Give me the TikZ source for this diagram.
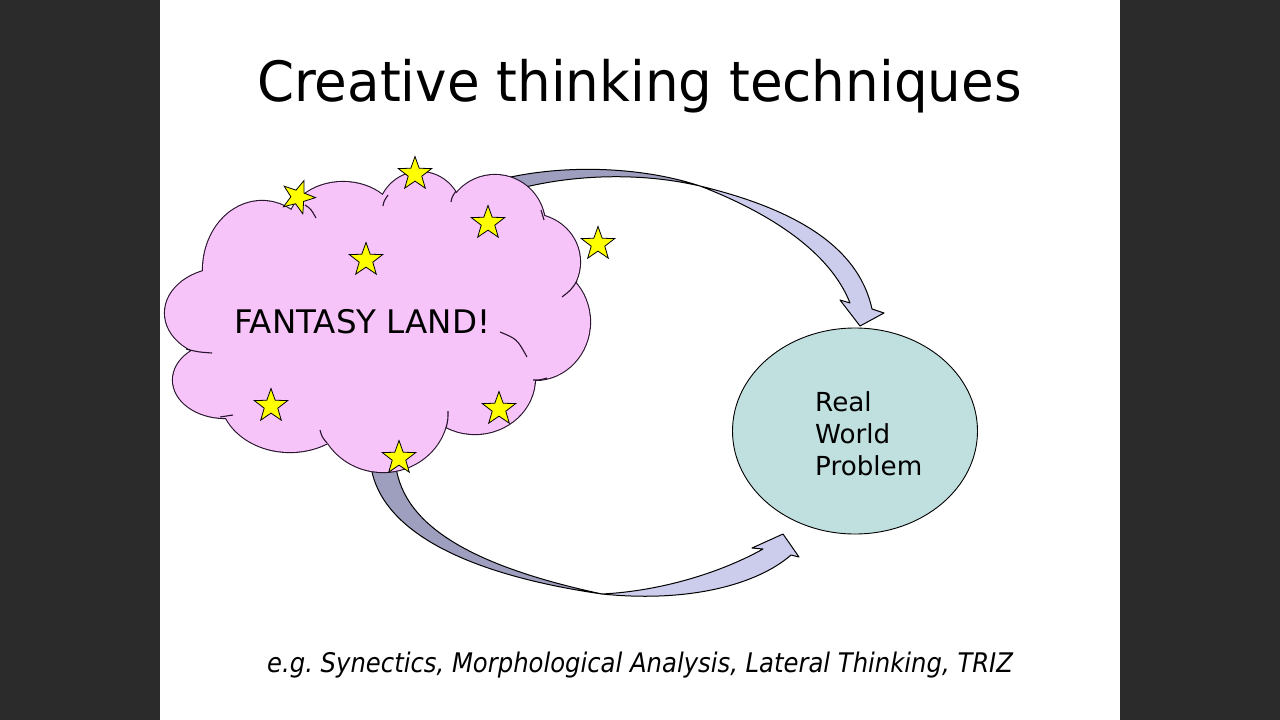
\documentclass[tikz,border=0pt]{standalone}
\usepackage{fontspec}
\setmainfont{DejaVu Sans}
\newfontfamily\titlefont[FakeStretch=0.955]{DejaVu Sans}
\newfontfamily\notefont[FakeStretch=0.9]{DejaVu Sans}
\usetikzlibrary{shapes.geometric}
\definecolor{bgdark}{RGB}{43,43,43}
\definecolor{cloudpink}{RGB}{247,196,250}
\definecolor{cloudline}{RGB}{40,20,45}
\definecolor{realfill}{RGB}{192,224,223}
\definecolor{arrowdark}{RGB}{158,158,190}
\definecolor{arrowlight}{RGB}{204,204,236}
\definecolor{staryellow}{RGB}{255,255,0}
\frenchspacing
\begin{document}
\begin{tikzpicture}[x=1pt,y=-1pt,
  arrowline/.style={draw=black, line width=1pt, line join=round},
  cloudedge/.style={draw=cloudline, line width=1.1pt},
  starnode/.style={star, star points=5, star point ratio=2.45, minimum size=35pt,
    inner sep=0pt, draw=black, line width=0.8pt, fill=staryellow},
  realnode/.style={ellipse, draw=black, line width=0.9pt, fill=realfill,
    minimum width=245pt, minimum height=206pt, inner sep=0pt},
  plain/.style={anchor=base west, inner sep=0pt}]
\useasboundingbox (0,0) rectangle (1280,720);
\fill[bgdark] (0,0) rectangle (1280,720);
\fill[white] (160,0) rectangle (1120,720);

% title
\node[plain] (title) at (257,101) {\titlefont\fontsize{55.6}{60}\selectfont Creative thinking techniques};

% top curved arrow (dark underside, then light top side)
\draw[arrowline, fill=arrowdark] (498,180) .. controls (560,164) and (640,166) .. (700,186)
  .. controls (640,172) and (570,174) .. (510,191) -- cycle;
\draw[arrowline, fill=arrowlight] (700,186) .. controls (782,206) and (857,240) .. (872,309)
  -- (884,313) -- (860,326) -- (840,300) -- (850,303)
  .. controls (830,252) and (770,213) .. (700,186) -- cycle;

% bottom curved arrow
\draw[arrowline, fill=arrowdark] (370,455) .. controls (371,522) and (450,572) .. (602,594)
  .. controls (452,562) and (396,515) .. (395,455) -- cycle;
\draw[arrowline, fill=arrowlight] (602,594) .. controls (690,603) and (758,584) .. (791,555)
  -- (799,557) -- (783,534) -- (752,548) -- (763,549)
  .. controls (722,572) and (662,591) .. (602,594) -- cycle;

% cloud
\foreach \cx/\cy/\rx/\ry in {262/270/59/69, 343/225/55/43, 420/215/42/43, 495/225/50/50,
  530/262/50/48, 535/322/55/58, 475/378/60/56, 383/410/65/62, 290/395/70/57,
  225/380/52/38, 225/313/60/45}
  \draw[cloudline, line width=2.2pt] (\cx,\cy) ellipse [x radius=\rx, y radius=\ry];
\foreach \cx/\cy/\rx/\ry in {262/270/59/69, 343/225/55/43, 420/215/42/43, 495/225/50/50,
  530/262/50/48, 535/322/55/58, 475/378/60/56, 383/410/65/62, 290/395/70/57,
  225/380/52/38, 225/313/60/45, 380/315/150/95}
  \fill[cloudpink] (\cx,\cy) ellipse [x radius=\rx, y radius=\ry];
\coordinate (cloud) at (380,315);
% inner arc ends of the cloud lobes
\draw[cloudedge] (305,205) .. controls (311,209) .. (316,218);
\draw[cloudedge] (383,206) .. controls (384,201) .. (388,195);
\draw[cloudedge] (451,202) .. controls (452,197) .. (456,191);
\draw[cloudedge] (544,220) .. controls (543,215) .. (541,210);
\draw[cloudedge] (577,281) .. controls (571,290) .. (562,297);
\draw[cloudedge] (547,378) .. controls (540,380) .. (533,380);
\draw[cloudedge] (500,332) .. controls (517,339) .. (527,357);
\draw[cloudedge] (448,411) .. controls (448,420) .. (446,428);
\draw[cloudedge] (320,430) .. controls (322,437) .. (327,443);
\draw[cloudedge] (233,415) .. controls (226,416) .. (220,417);
\draw[cloudedge] (186,349) .. controls (198,352) .. (212,353);

\node[plain] (fantasy) at (234,333) {\fontsize{32.5}{36}\selectfont FANTASY LAND!};

% stars
\node[starnode, rotate=-20] (s1) at (298,197) {};
\node[starnode] (s2) at (415,174) {};
\node[starnode] (s3) at (488,223) {};
\node[starnode] (s4) at (598,244) {};
\node[starnode] (s5) at (366,260) {};
\node[starnode] (s6) at (271,406) {};
\node[starnode] (s7) at (499,409) {};
\node[starnode] (s8) at (399,458) {};

% real world problem
\node[realnode] (real) at (855,431) {};
\node[plain] (l1) at (815,411) {\fontsize{26.2}{30}\selectfont Real};
\node[plain] (l2) at (815,443) {\fontsize{26.2}{30}\selectfont World};
\node[plain] (l3) at (815,475) {\fontsize{26.2}{30}\selectfont Problem};

% footnote
\node[plain] (note) at (267,672) {\notefont\itshape\fontsize{27}{32}\selectfont e.g. Synectics, Morphological Analysis, Lateral Thinking, TRIZ};
\end{tikzpicture}
\end{document}
